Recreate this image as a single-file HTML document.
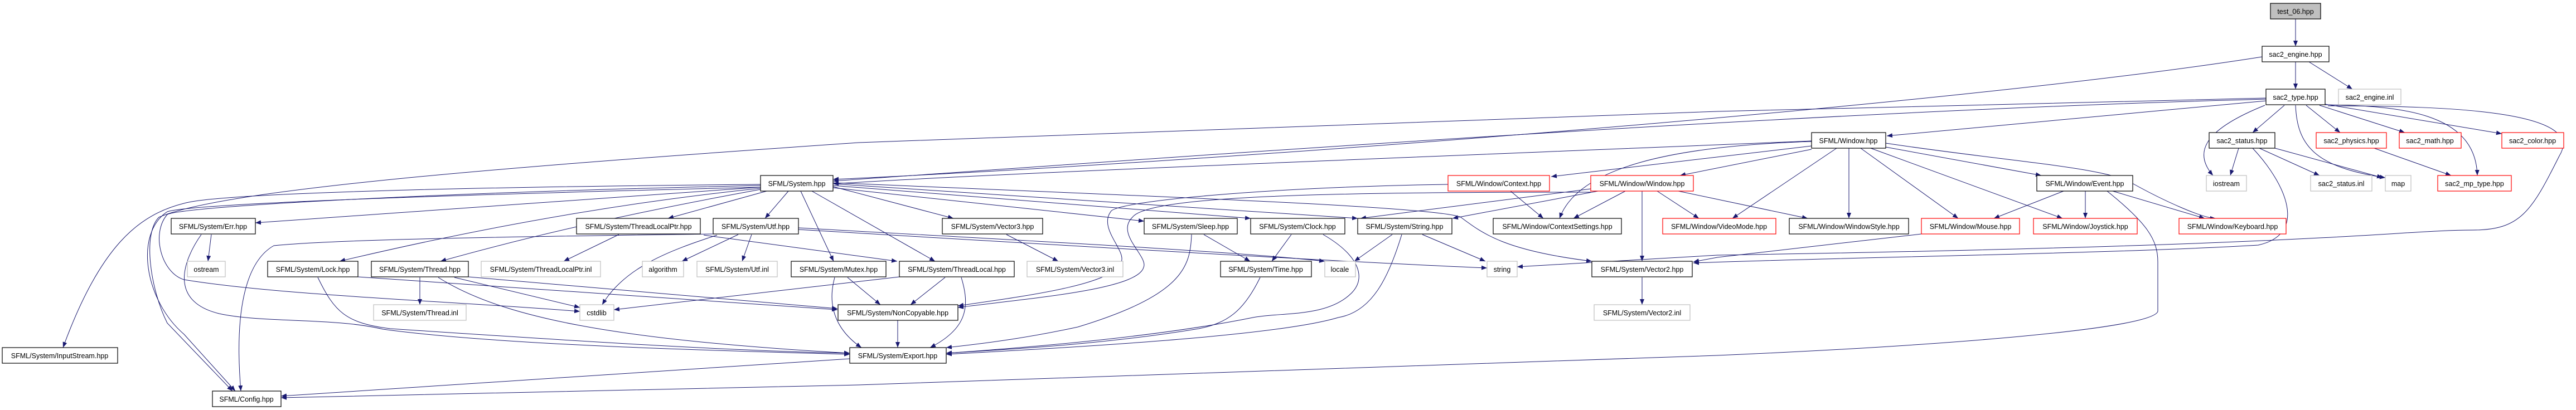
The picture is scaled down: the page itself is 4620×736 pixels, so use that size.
<!DOCTYPE html>
<html><head><meta charset="utf-8"><style>
html,body{margin:0;padding:0;background:#fff;width:4620px;height:736px;overflow:hidden}
svg{display:block}
text{font-family:"Liberation Sans",Arial,sans-serif;font-size:12.5px;fill:#000;text-anchor:middle}
.b{fill:#fff;stroke:#000;stroke-width:1.2}
.r{fill:#fff;stroke:#ff0000;stroke-width:1.2}
.g{fill:#fff;stroke:#bfbfbf;stroke-width:1.2}
.e path{fill:none;stroke:#191970;stroke-width:1;marker-end:url(#a)}
</style></head><body>
<svg width="4620" height="736" viewBox="0 0 4620 736" xmlns="http://www.w3.org/2000/svg">
<defs><marker id="a" viewBox="0 0 10 8" refX="10" refY="4" markerWidth="10" markerHeight="8" markerUnits="userSpaceOnUse" orient="auto"><path d="M0,0 L10,4 L0,8 z" fill="#191970"/></marker></defs>
<g class="e">
<path d="M4117,34 L4117,83"/>
<path d="M4117,111 L4117,160"/>
<path d="M4141,111 L4219,160"/>
<path d="M4057,102 C3500,190 2200,290 1494,322"/>
<path d="M4064,178 C3200,200 2000,290 1494,325"/>
<path d="M4064,176 L3080,200 L1540,256 C900,300 400,340 285,390 C255,420 270,520 300,580 L417,702"/>
<path d="M4064,181 L3384,244"/>
<path d="M4097,189 L4040,238"/>
<path d="M4062,189 C3960,230 3930,270 3969,315"/>
<path d="M4117,189 C4120,260 4150,300 4278,319"/>
<path d="M4136,189 L4197,238"/>
<path d="M4160,189 L4313,238"/>
<path d="M4170,187 L4487,240"/>
<path d="M4170,188 C4300,190 4440,200 4443,315"/>
<path d="M4175,190 C4400,190 4640,200 4590,280 C4540,380 4520,413 4435,413 C4300,413 4200,440 3080,458 L2721,479"/>
<path d="M4040,266 C4100,330 4140,420 4050,440 C3800,455 3300,462 3037,472"/>
<path d="M4015,266 L4000,315"/>
<path d="M4052,266 L4160,315"/>
<path d="M4080,266 L4273,319"/>
<path d="M4258,266 L4396,315"/>
<path d="M3382,264 L3661,315"/>
<path d="M3382,257 C3600,290 3780,300 3826,330 C3880,360 3950,392 3974,392"/>
<path d="M3355,266 L3699,392"/>
<path d="M3337,266 L3512,392"/>
<path d="M3316,266 L3316,392"/>
<path d="M3294,266 L3107,392"/>
<path d="M3701,343 L3576,392"/>
<path d="M3740,343 L3740,392"/>
<path d="M3789,343 L3954,392"/>
<path d="M3779,343 C3850,400 3870,430 3870,470 L3870,559 C3860,590 3500,620 3080,638 L1540,691 L504,714"/>
<path d="M3446,420 L3080,462 L3037,470"/>
<path d="M3249,253 C2600,280 1800,310 1494,330"/>
<path d="M3249,262 L2782,317"/>
<path d="M3249,268 L3013,315"/>
<path d="M3249,254 C3000,262 2830,300 2797,392"/>
<path d="M3010,343 L3242,392"/>
<path d="M2915,343 L2822,392"/>
<path d="M2972,343 L3047,392"/>
<path d="M2945,343 L2945,469"/>
<path d="M2866,343 L2605,392"/>
<path d="M2853,339 L2440,392"/>
<path d="M2853,345 C2400,345 2060,350 2031,390 C2000,420 2060,460 2051,480 C2040,520 1850,535 1718,552"/>
<path d="M2597,331 C2300,335 2000,360 1992,380 C1970,410 2020,450 2011,470 C2000,510 1850,530 1718,549"/>
<path d="M2709,343 L2768,392"/>
<path d="M1364,331 C900,335 400,345 330,365 C250,385 180,440 113,624"/>
<path d="M1364,336 C800,350 350,365 300,380 C240,420 260,540 330,600 L422,702"/>
<path d="M1364,336 L458,400"/>
<path d="M1364,338 C1150,360 900,400 609,469"/>
<path d="M1364,340 C1200,370 1000,410 790,469"/>
<path d="M1375,343 L1198,392"/>
<path d="M1414,343 L1372,392"/>
<path d="M1436,343 L1495,469"/>
<path d="M1456,343 L1677,469"/>
<path d="M1494,335 L1710,392"/>
<path d="M1494,337 L2052,397"/>
<path d="M1494,333 L2243,392"/>
<path d="M1494,330 L2435,392"/>
<path d="M1494,328 C2000,350 2580,370 2620,390 C2660,420 2700,450 2855,469"/>
<path d="M1364,333 C800,345 330,370 300,385 C270,420 290,490 330,502 C500,530 800,540 1040,559"/>
<path d="M379,421 L373,469"/>
<path d="M361,421 C330,465 300,540 393,563 C470,580 600,570 687,591 C900,620 1300,630 1524,636"/>
<path d="M1279,420 C900,425 600,430 491,441 C440,470 420,560 432,702"/>
<path d="M1286,422 C1200,450 1120,480 1080,547"/>
<path d="M1324,421 L1223,469"/>
<path d="M1348,421 L1331,469"/>
<path d="M1432,409 C1800,430 2200,450 2376,469"/>
<path d="M1432,412 C1900,440 2400,470 2667,481"/>
<path d="M1110,421 L1011,469"/>
<path d="M1262,422 L1609,469"/>
<path d="M570,498 C600,560 620,580 700,590 C1000,610 1300,630 1524,634"/>
<path d="M642,497 L1502,556"/>
<path d="M753,498 L753,547"/>
<path d="M815,498 L1040,552"/>
<path d="M840,497 L1502,554"/>
<path d="M786,498 C900,570 1100,610 1524,634"/>
<path d="M1613,497 L1101,556"/>
<path d="M1520,498 L1579,547"/>
<path d="M1497,498 C1480,560 1510,600 1545,624"/>
<path d="M1695,498 L1633,547"/>
<path d="M1724,498 C1740,550 1735,590 1668,624"/>
<path d="M1610,575 L1610,624"/>
<path d="M1524,644 L504,711"/>
<path d="M1805,421 L1898,469"/>
<path d="M2159,421 L2242,469"/>
<path d="M2137,421 C2135,480 2120,530 1933,587 C1850,605 1780,615 1697,624"/>
<path d="M2316,421 L2281,469"/>
<path d="M2373,421 C2440,460 2450,500 2424,526 C2380,570 2300,560 2247,570 C2100,600 1900,620 1697,634"/>
<path d="M2497,421 L2429,469"/>
<path d="M2551,421 L2664,469"/>
<path d="M2514,421 C2490,500 2460,560 2400,570 C2300,600 2000,620 1697,636"/>
<path d="M2260,498 C2230,560 2200,580 2150,590 C2000,615 1850,625 1697,634"/>
<path d="M2945,498 L2945,547"/>
</g>
<g>
<rect x="4072" y="6" width="90" height="28" fill="#bfbfbf" stroke="#000" stroke-width="1.2"/><text x="4117" y="25">test_06.hpp</text>
<rect class="b" x="4057" y="83" width="120" height="28"/><text x="4117" y="102">sac2_engine.hpp</text>
<rect class="b" x="4064" y="160" width="106" height="28"/><text x="4117" y="179">sac2_type.hpp</text>
<rect class="g" x="4194" y="160" width="112" height="28"/><text x="4250" y="179">sac2_engine.inl</text>
<rect class="b" x="3249" y="238" width="133" height="28"/><text x="3315" y="257">SFML/Window.hpp</text>
<rect class="b" x="3962" y="238" width="118" height="28"/><text x="4021" y="257">sac2_status.hpp</text>
<rect class="r" x="4154" y="238" width="126" height="28"/><text x="4217" y="257">sac2_physics.hpp</text>
<rect class="r" x="4303" y="238" width="111" height="28"/><text x="4358" y="257">sac2_math.hpp</text>
<rect class="r" x="4487" y="238" width="111" height="28"/><text x="4542" y="257">sac2_color.hpp</text>
<rect class="b" x="3653" y="315" width="172" height="28"/><text x="3739" y="334">SFML/Window/Event.hpp</text>
<rect class="g" x="3957" y="315" width="72" height="28"/><text x="3993" y="334">iostream</text>
<rect class="g" x="4144" y="315" width="110" height="28"/><text x="4199" y="334">sac2_status.inl</text>
<rect class="g" x="4278" y="315" width="46" height="28"/><text x="4301" y="334">map</text>
<rect class="r" x="4372" y="315" width="132" height="28"/><text x="4438" y="334">sac2_mp_type.hpp</text>
<rect class="b" x="1364" y="315" width="130" height="28"/><text x="1429" y="334">SFML/System.hpp</text>
<rect class="r" x="2597" y="315" width="182" height="28"/><text x="2688" y="334">SFML/Window/Context.hpp</text>
<rect class="r" x="2853" y="315" width="184" height="28"/><text x="2945" y="334">SFML/Window/Window.hpp</text>
<rect class="b" x="307" y="392" width="151" height="28"/><text x="382" y="411">SFML/System/Err.hpp</text>
<rect class="b" x="1034" y="392" width="222" height="28"/><text x="1145" y="411">SFML/System/ThreadLocalPtr.hpp</text>
<rect class="b" x="1279" y="392" width="153" height="28"/><text x="1355" y="411">SFML/System/Utf.hpp</text>
<rect class="b" x="1690" y="392" width="180" height="28"/><text x="1780" y="411">SFML/System/Vector3.hpp</text>
<rect class="b" x="2052" y="392" width="167" height="28"/><text x="2135" y="411">SFML/System/Sleep.hpp</text>
<rect class="b" x="2243" y="392" width="169" height="28"/><text x="2327" y="411">SFML/System/Clock.hpp</text>
<rect class="b" x="2435" y="392" width="169" height="28"/><text x="2519" y="411">SFML/System/String.hpp</text>
<rect class="b" x="2678" y="392" width="230" height="28"/><text x="2793" y="411">SFML/Window/ContextSettings.hpp</text>
<rect class="r" x="2982" y="392" width="203" height="28"/><text x="3083" y="411">SFML/Window/VideoMode.hpp</text>
<rect class="b" x="3209" y="392" width="214" height="28"/><text x="3316" y="411">SFML/Window/WindowStyle.hpp</text>
<rect class="r" x="3446" y="392" width="176" height="28"/><text x="3534" y="411">SFML/Window/Mouse.hpp</text>
<rect class="r" x="3647" y="392" width="186" height="28"/><text x="3740" y="411">SFML/Window/Joystick.hpp</text>
<rect class="r" x="3908" y="392" width="192" height="28"/><text x="4004" y="411">SFML/Window/Keyboard.hpp</text>
<rect class="g" x="336" y="469" width="68" height="28"/><text x="370" y="488">ostream</text>
<rect class="b" x="480" y="469" width="162" height="28"/><text x="561" y="488">SFML/System/Lock.hpp</text>
<rect class="b" x="666" y="469" width="174" height="28"/><text x="753" y="488">SFML/System/Thread.hpp</text>
<rect class="g" x="863" y="469" width="214" height="28"/><text x="970" y="488">SFML/System/ThreadLocalPtr.inl</text>
<rect class="g" x="1152" y="469" width="74" height="28"/><text x="1189" y="488">algorithm</text>
<rect class="g" x="1250" y="469" width="144" height="28"/><text x="1322" y="488">SFML/System/Utf.inl</text>
<rect class="b" x="1419" y="469" width="170" height="28"/><text x="1504" y="488">SFML/System/Mutex.hpp</text>
<rect class="b" x="1613" y="469" width="206" height="28"/><text x="1716" y="488">SFML/System/ThreadLocal.hpp</text>
<rect class="g" x="1842" y="469" width="172" height="28"/><text x="1928" y="488">SFML/System/Vector3.inl</text>
<rect class="b" x="2189" y="469" width="163" height="28"/><text x="2270" y="488">SFML/System/Time.hpp</text>
<rect class="g" x="2376" y="469" width="55" height="28"/><text x="2403" y="488">locale</text>
<rect class="g" x="2667" y="469" width="54" height="28"/><text x="2694" y="488">string</text>
<rect class="b" x="2855" y="469" width="180" height="28"/><text x="2945" y="488">SFML/System/Vector2.hpp</text>
<rect class="g" x="670" y="547" width="166" height="28"/><text x="753" y="566">SFML/System/Thread.inl</text>
<rect class="g" x="1040" y="547" width="61" height="28"/><text x="1070" y="566">cstdlib</text>
<rect class="b" x="1503" y="547" width="215" height="28"/><text x="1610" y="566">SFML/System/NonCopyable.hpp</text>
<rect class="g" x="2859" y="547" width="172" height="28"/><text x="2945" y="566">SFML/System/Vector2.inl</text>
<rect class="b" x="4" y="624" width="207" height="28"/><text x="107" y="643">SFML/System/InputStream.hpp</text>
<rect class="b" x="1524" y="624" width="173" height="28"/><text x="1610" y="643">SFML/System/Export.hpp</text>
<rect class="b" x="381" y="702" width="123" height="28"/><text x="442" y="721">SFML/Config.hpp</text>
</g>
</svg>
</body></html>
